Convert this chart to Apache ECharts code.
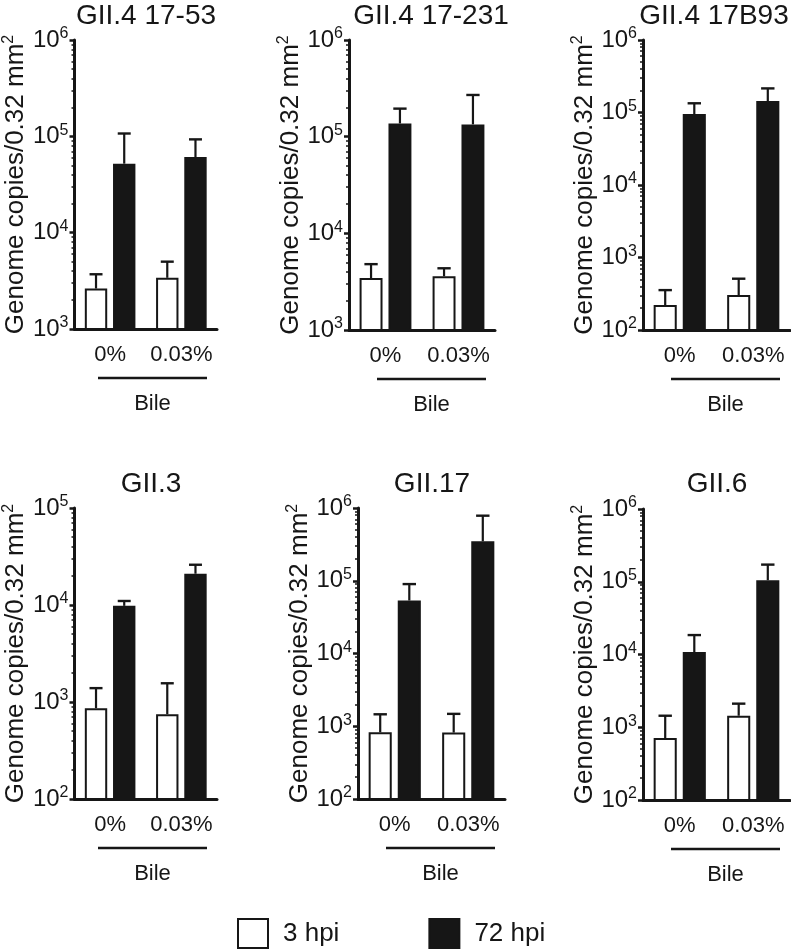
<!DOCTYPE html>
<html><head><meta charset="utf-8">
<script src="https://cdn.jsdelivr.net/npm/echarts@6/dist/echarts.min.js"></script>
<style>html,body{margin:0;padding:0;background:#fff}#c{width:791px;height:949px}</style>
</head><body><div id="c"></div>
<script>
// ---------- data ----------
const panelTitles = ['GII.4 17-53', 'GII.4 17-231', 'GII.4 17B93', 'GII.3', 'GII.17', 'GII.6'];
const categories = ['0%', '0.03%'];
const seriesNames = ['3 hpi', '72 hpi'];
const hpi3Mean  = [[2630, 3400], [3450, 3600], [221, 304], [863, 748], [827, 818], [709, 1440]];
const hpi3Upper = [[3700, 5000], [4800, 4350], [355, 510], [1390, 1560], [1460, 1480], [1440, 2110]];
const hpi72Mean  = [[52000, 61000], [137000, 134000], [95000, 144000], [9800, 21000], [53500, 348000], [10800, 105000]];
const hpi72Upper = [[107000, 93000], [195000, 270000], [134000, 215000], [11000, 26000], [90000, 784000], [18500, 172000]];
const axisMin = [1e3, 1e3, 1e2, 1e2, 1e2, 1e2];
const axisMax = [1e6, 1e6, 1e6, 1e5, 1e6, 1e6];
const minorSteps = [2, 3, 4, 5, 6, 7, 8, 9];
const yAxisName = 'Genome copies/0.32 mm';
const yAxisNameSup = '2';
const bracketLabel = 'Bile';

// ---------- layout / style ----------
const FONT = "'Liberation Sans', Arial, Helvetica, sans-serif";
const INK = '#161616';
const CAT_GAP = 0.29, BAR_GAP = 0.26;
const grids = [
  {left: 70, top: 40, width: 147, height: 289},
  {left: 349, top: 40, width: 146, height: 290},
  {left: 643, top: 40, width: 147, height: 290},
  {left: 70, top: 508, width: 147, height: 291},
  {left: 358, top: 508, width: 147, height: 291},
  {left: 643, top: 509, width: 147, height: 291}
];
const titlePos = [[146, 16], [431, 16], [714, 16], [151, 484], [432, 484], [717, 484]];

function minorValues(min, max) {
  const out = [];
  for (let d = min; d < max; d *= 10) minorSteps.forEach(k => out.push(k * d));
  return out;
}

function errorRender(side) {
  return function (params, api) {
    const cat = api.value(0), mean = api.value(1), upper = api.value(2);
    const a = api.coord([0, mean]), b = api.coord([1, mean]);
    const band = Math.abs(b[0] - a[0]);
    const bw = band * (1 - CAT_GAP) / (2 + BAR_GAP);
    const off = side * bw * (1 + BAR_GAP) / 2;
    const base = api.coord([cat, mean]);
    const top = api.coord([cat, upper]);
    const x = base[0] + off;
    const capHalf = bw * 0.29;
    return {
      type: 'group',
      children: [
        {type: 'line', shape: {x1: x, y1: base[1], x2: x, y2: top[1]}, style: {stroke: INK, lineWidth: 2.2}},
        {type: 'line', shape: {x1: x - capHalf, y1: top[1], x2: x + capHalf, y2: top[1]}, style: {stroke: INK, lineWidth: 2.4}}
      ]
    };
  };
}

const option = {
  animation: false,
  backgroundColor: '#fff',
  textStyle: {fontFamily: FONT, color: INK},
  grid: grids.map(g => Object.assign({containLabel: false}, g)),
  xAxis: [],
  yAxis: [],
  series: [],
  graphic: [],
  legend: {
    data: seriesNames,
    left: 232, top: 913,
    icon: 'rect',
    itemWidth: 30, itemHeight: 29,
    itemGap: 89,
    textStyle: {fontSize: 26, fontFamily: FONT, color: INK, padding: [0, 0, 0, 10]},
    selectedMode: false
  }
};

grids.forEach((g, i) => {
  option.xAxis.push({
    type: 'category', gridIndex: i, data: categories,
    axisLine: {show: true, lineStyle: {color: INK, width: 3}},
    axisTick: {show: false},
    axisLabel: {interval: 0, fontSize: 22, color: INK, margin: 15, fontFamily: FONT, hideOverlap: false}
  });
  option.yAxis.push({
    type: 'log', logBase: 10, gridIndex: i, min: axisMin[i], max: axisMax[i],
    axisLine: {show: true, lineStyle: {color: INK, width: 3}},
    axisTick: {show: true, length: 5, lineStyle: {color: INK, width: 2.5}},
    splitLine: {show: false},
    axisLabel: {
      margin: 6,
      formatter: v => '{b|10}{s|' + Math.round(Math.log10(v)) + '}',
      rich: {
        b: {fontSize: 24, fontFamily: FONT, color: INK, lineHeight: 28},
        s: {fontSize: 16, fontFamily: FONT, color: INK, verticalAlign: 'top', lineHeight: 16}
      }
    },
    name: '{a|' + yAxisName + '}{s|' + yAxisNameSup + '}',
    nameLocation: 'middle', nameGap: 42,
    nameTextStyle: {
      rich: {
        a: {fontSize: 26, fontFamily: FONT, color: INK, lineHeight: 30},
        s: {fontSize: 16, fontFamily: FONT, color: INK, verticalAlign: 'top', lineHeight: 16}
      }
    }
  });
  option.yAxis.push({
    type: 'log', logBase: 10, gridIndex: i, min: axisMin[i], max: axisMax[i],
    position: 'left',
    axisLine: {show: false},
    axisLabel: {show: false},
    splitLine: {show: false},
    axisTick: {show: true, length: 3, customValues: minorValues(axisMin[i], axisMax[i]), lineStyle: {color: INK, width: 1.5}}
  });
  const yi = 2 * i;
  option.series.push({
    name: seriesNames[0], type: 'bar', xAxisIndex: i, yAxisIndex: yi, clip: true,
    barCategoryGap: (CAT_GAP * 100) + '%', barGap: (BAR_GAP * 100) + '%',
    itemStyle: {color: '#ffffff', borderColor: INK, borderWidth: 2},
    data: hpi3Mean[i], z: 2
  });
  option.series.push({
    name: seriesNames[1], type: 'bar', xAxisIndex: i, yAxisIndex: yi, clip: true,
    barCategoryGap: (CAT_GAP * 100) + '%', barGap: (BAR_GAP * 100) + '%',
    itemStyle: {color: INK, borderColor: INK, borderWidth: 2},
    data: hpi72Mean[i], z: 2
  });
  option.series.push({
    name: 'err3', type: 'custom', xAxisIndex: i, yAxisIndex: yi, z: 3,
    renderItem: errorRender(-1), encode: {x: 0, y: [1, 2]},
    data: categories.map((c, k) => [k, hpi3Mean[i][k], hpi3Upper[i][k]])
  });
  option.series.push({
    name: 'err72', type: 'custom', xAxisIndex: i, yAxisIndex: yi, z: 3,
    renderItem: errorRender(1), encode: {x: 0, y: [1, 2]},
    data: categories.map((c, k) => [k, hpi72Mean[i][k], hpi72Upper[i][k]])
  });
  // title
  option.graphic.push({
    type: 'text', x: titlePos[i][0], y: titlePos[i][1], silent: true,
    style: {text: panelTitles[i], font: '28px ' + FONT, fill: INK, align: 'center', verticalAlign: 'middle'}
  });
  // bracket line + Bile
  const axisY = g.top + g.height;
  const x1 = g.left + 28, x2 = g.left + 137;
  option.graphic.push({
    type: 'line', silent: true,
    shape: {x1: x1, y1: axisY + 49, x2: x2, y2: axisY + 49},
    style: {stroke: INK, lineWidth: 2.5}
  });
  option.graphic.push({
    type: 'text', x: (x1 + x2) / 2, y: axisY + 75, silent: true,
    style: {text: bracketLabel, font: '22px ' + FONT, fill: INK, align: 'center', verticalAlign: 'middle'}
  });
});

const chart = echarts.init(document.getElementById('c'), null, {renderer: 'canvas'});
chart.setOption(option);
</script>
</body></html>
